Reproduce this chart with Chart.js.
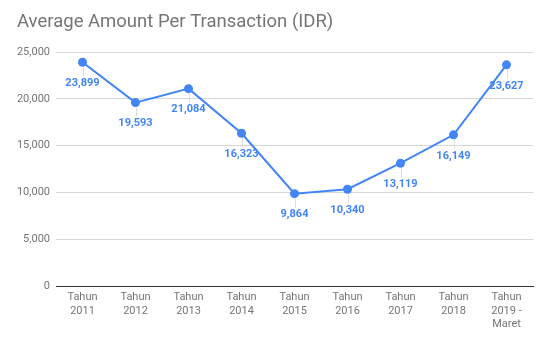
<!DOCTYPE html>
<html>
<head>
<meta charset="utf-8">
<script src="https://cdn.jsdelivr.net/npm/chart.js@4"></script>
<style>
  html, body { margin: 0; padding: 0; background: #fff; }
  #wrap { width: 551px; height: 341px; }
</style>
</head>
<body>
<div id="wrap"><canvas id="amountChart" width="551" height="341"></canvas></div>
<script>
// Yearly categories (multi-line labels)
const years = [
    ['Tahun', '2011'], ['Tahun', '2012'], ['Tahun', '2013'], ['Tahun', '2014'],
    ['Tahun', '2015'], ['Tahun', '2016'], ['Tahun', '2017'], ['Tahun', '2018'],
    ['Tahun', '2019 -', 'Maret']
];
// Average amount per transaction, IDR
const avgAmount = [23899, 19593, 21084, 16323, 9864, 10340, 13119, 16149, 23627];
const yTicks = [0, 5000, 10000, 15000, 20000, 25000];
const chartTitle = 'Average Amount Per Transaction (IDR)';

const blue = '#4285F4';
const fmt = v => v.toLocaleString('en-US');

// Title drawn at the top-left corner
const titlePlugin = {
    id: 'leftTitle',
    afterDraw(chart) {
        const ctx = chart.ctx;
        ctx.save();
        ctx.font = '18.5px Roboto';
        ctx.fillStyle = '#757575';
        ctx.textBaseline = 'middle';
        ctx.textAlign = 'left';
        ctx.fillText(chartTitle, 17, 22);
        ctx.restore();
    }
};

// Value labels under each point with a faint leader
const valueLabels = {
    id: 'valueLabels',
    afterDatasetsDraw(chart) {
        const ctx = chart.ctx;
        const meta = chart.getDatasetMeta(0);
        ctx.save();
        meta.data.forEach((pt, i) => {
            ctx.strokeStyle = '#dddddd';
            ctx.lineWidth = 1;
            ctx.beginPath();
            ctx.moveTo(Math.round(pt.x) + 0.5, pt.y + 5);
            ctx.lineTo(Math.round(pt.x) + 0.5, pt.y + 14);
            ctx.stroke();
            ctx.font = 'bold 11px Roboto';
            ctx.fillStyle = blue;
            ctx.textAlign = 'center';
            ctx.textBaseline = 'middle';
            ctx.fillText(fmt(avgAmount[i]), pt.x, pt.y + 21);
        });
        ctx.restore();
    }
};

new Chart(document.getElementById('amountChart'), {
    type: 'line',
    data: {
        labels: years,
        datasets: [{
            data: avgAmount,
            borderColor: blue,
            backgroundColor: blue,
            borderWidth: 2,
            pointRadius: 4.5,
            pointBackgroundColor: blue,
            pointBorderWidth: 0,
            tension: 0,
            fill: false
        }]
    },
    options: {
        responsive: false,
        animation: false,
        layout: { padding: { left: 17, right: 18, top: 52, bottom: 0 } },
        plugins: {
            legend: { display: false },
            title: { display: false },
            tooltip: { enabled: false }
        },
        scales: {
            x: {
                offset: true,
                grid: { display: false, drawTicks: false },
                border: { color: '#333333', width: 1 },
                ticks: {
                    color: '#757575',
                    font: { family: 'Roboto', size: 11 },
                    padding: 5,
                    maxRotation: 0,
                    autoSkip: false
                },
                afterFit(scale) { scale.height = 55; }
            },
            y: {
                min: 0,
                max: 25000,
                afterBuildTicks(scale) { scale.ticks = yTicks.map(v => ({ value: v })); },
                grid: {
                    color: ctx => ctx.tick && ctx.tick.value === 0 ? '#333333' : '#d6d6d6',
                    drawTicks: false
                },
                border: { display: false },
                ticks: {
                    color: '#757575',
                    font: { family: 'Roboto', size: 11 },
                    padding: 6,
                    callback: v => fmt(v)
                },
                afterFit(scale) { scale.width = 39; }
            }
        }
    },
    plugins: [titlePlugin, valueLabels]
});
</script>
</body>
</html>
